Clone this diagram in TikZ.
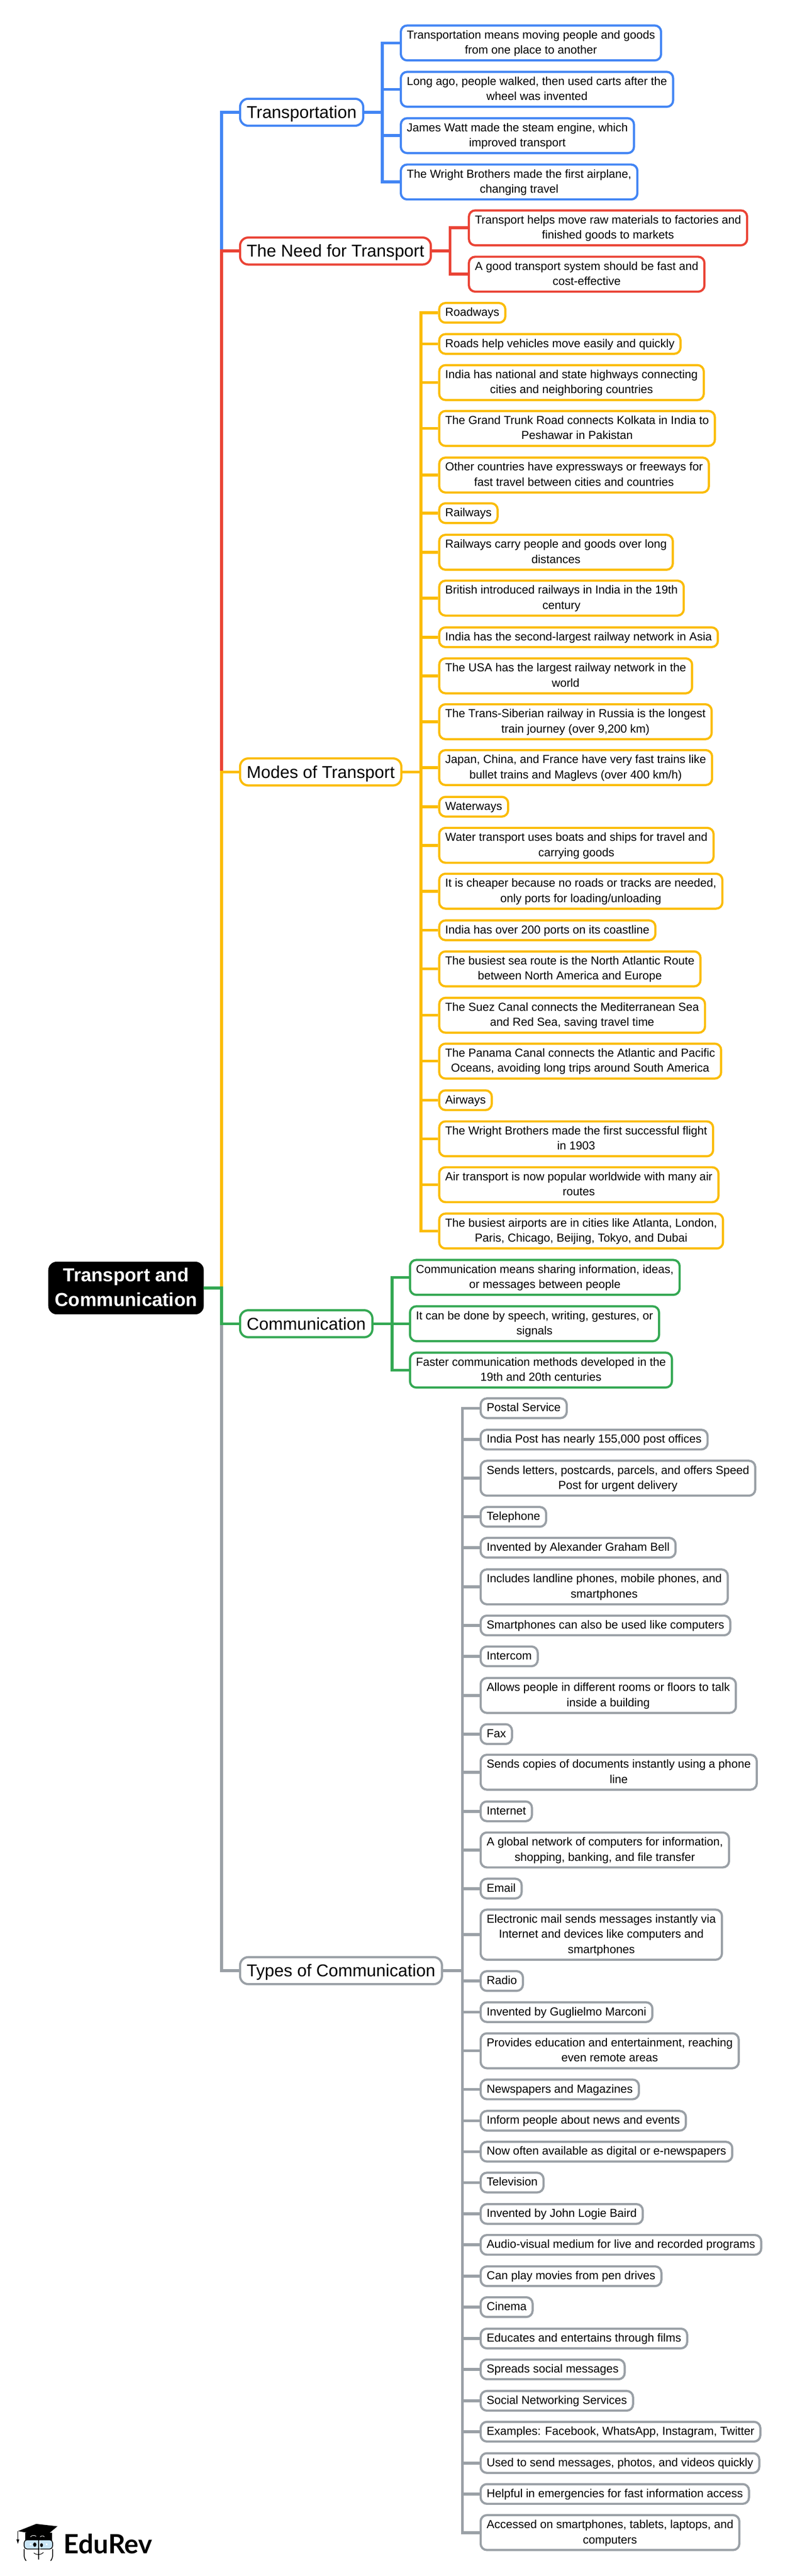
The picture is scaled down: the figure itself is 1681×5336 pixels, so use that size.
\documentclass[tikz,border=0pt]{standalone}
\usepackage{fontspec}
\setmainfont{Liberation Sans}
\newfontfamily\logofont{Lato}
\definecolor{tblue}{HTML}{4285F4}
\definecolor{tred}{HTML}{EA4335}
\definecolor{tyellow}{HTML}{FBBC04}
\definecolor{tgreen}{HTML}{34A853}
\definecolor{tgrey}{HTML}{9AA0A6}
\definecolor{lens}{HTML}{C9E5F6}
\newcommand{\boxstrut}[2]{\rule[-#2pt]{0pt}{#1pt}}
\begin{document}
\begin{tikzpicture}[x=1pt,y=-1pt,
    boxed/.style={draw,fill=white,anchor=west,align=center},
    root/.style={boxed,draw=black,fill=black,text=white,line width=1pt,rounded corners=17pt,inner xsep=13.2pt,inner ysep=3pt,font=\fontsize{39}{51}\selectfont\bfseries,text height=88.4pt,execute at end node=\boxstrut{51}{13.6}},
    branch/.style={boxed,line width=4.5pt,rounded corners=17pt,inner xsep=13.75pt,inner ysep=5.45pt,font=\fontsize{35.5}{45}\selectfont,text height=35pt,execute at end node=\boxstrut{45}{10}},
    leaf/.style={boxed,line width=4.5pt,rounded corners=13pt,inner xsep=12.45pt,inner ysep=4.65pt,font=\fontsize{24}{31.5}\selectfont,text height=22.75pt,execute at end node=\boxstrut{31.5}{8.75}},
    leaftwo/.style={leaf,text height=54.25pt},
    leafthree/.style={leaf,text height=85.75pt},
    trunk/.style={line width=6pt},
    twig/.style={line width=6pt}]
    \useasboundingbox (0,0) rectangle (1681,5336);

    \node[root] at (100,2668) (root) {Transport and\\Communication};

    % first branch
    \node[branch,draw=tblue] at (495,232.5) (trans) {Transportation};
    \node[leaftwo,draw=tblue] at (828,89) (t1) {Transportation means moving people and goods\\from one place to another};
    \node[leaftwo,draw=tblue] at (828,185) (t2) {Long ago, people walked, then used carts after the\\wheel was invented};
    \node[leaftwo,draw=tblue] at (828,281) (t3) {James Watt made the steam engine, which\\improved transport};
    \node[leaftwo,draw=tblue] at (828,377) (t4) {The Wright Brothers made the first airplane,\\changing travel};

    \node[branch,draw=tred] at (495,520) (need) {The Need for Transport};
    \node[leaftwo,draw=tred] at (969,472) (n1) {Transport helps move raw materials to factories and\\finished goods to markets};
    \node[leaftwo,draw=tred] at (969,568) (n2) {A good transport system should be fast and\\cost-effective};

    % modes
    \node[branch,draw=tyellow] at (495,1599) (modes) {Modes of Transport};
    \node[leaf,draw=tyellow] at (907.5,648) (m1) {Roadways};
    \node[leaf,draw=tyellow] at (907.5,712.5) (m2) {Roads help vehicles move easily and quickly};
    \node[leaftwo,draw=tyellow] at (907.5,792.5) (m3) {India has national and state highways connecting\\cities and neighboring countries};
    \node[leaftwo,draw=tyellow] at (907.5,887.5) (m4) {The Grand Trunk Road connects Kolkata in India to\\Peshawar in Pakistan};
    \node[leaftwo,draw=tyellow] at (907.5,984) (m5) {Other countries have expressways or freeways for\\fast travel between cities and countries};
    \node[leaf,draw=tyellow] at (907.5,1063) (m6) {Railways};
    \node[leaftwo,draw=tyellow] at (907.5,1144) (m7) {Railways carry people and goods over long\\distances};
    \node[leaftwo,draw=tyellow] at (907.5,1239) (m8) {British introduced railways in India in the 19th\\century};
    \node[leaf,draw=tyellow] at (907.5,1320) (m9) {India has the second-largest railway network in Asia};
    \node[leaftwo,draw=tyellow] at (907.5,1400) (m10) {The USA has the largest railway network in the\\world};
    \node[leaftwo,draw=tyellow] at (907.5,1495) (m11) {The Trans-Siberian railway in Russia is the longest\\train journey (over 9,200 km)};
    \node[leaftwo,draw=tyellow] at (907.5,1590) (m12) {Japan, China, and France have very fast trains like\\bullet trains and Maglevs (over 400 km/h)};
    \node[leaf,draw=tyellow] at (907.5,1671) (m13) {Waterways};
    \node[leaftwo,draw=tyellow] at (907.5,1751) (m14) {Water transport uses boats and ships for travel and\\carrying goods};
    \node[leaftwo,draw=tyellow] at (907.5,1846) (m15) {It is cheaper because no roads or tracks are needed,\\only ports for loading/unloading};
    \node[leaf,draw=tyellow] at (907.5,1927) (m16) {India has over 200 ports on its coastline};
    \node[leaftwo,draw=tyellow] at (907.5,2007) (m17) {The busiest sea route is the North Atlantic Route\\between North America and Europe};
    \node[leaftwo,draw=tyellow] at (907.5,2103) (m18) {The Suez Canal connects the Mediterranean Sea\\and Red Sea, saving travel time};
    \node[leaftwo,draw=tyellow] at (907.5,2198) (m19) {The Panama Canal connects the Atlantic and Pacific\\Oceans, avoiding long trips around South America};
    \node[leaf,draw=tyellow] at (907.5,2279) (m20) {Airways};
    \node[leaftwo,draw=tyellow] at (907.5,2359) (m21) {The Wright Brothers made the first successful flight\\in 1903};
    \node[leaftwo,draw=tyellow] at (907.5,2454) (m22) {Air transport is now popular worldwide with many air\\routes};
    \node[leaftwo,draw=tyellow] at (907.5,2550) (m23) {The busiest airports are in cities like Atlanta, London,\\Paris, Chicago, Beijing, Tokyo, and Dubai};

    % communication
    \node[branch,draw=tgreen] at (495,2742) (comm) {Communication};
    \node[leaftwo,draw=tgreen] at (847,2646) (c1) {Communication means sharing information, ideas,\\or messages between people};
    \node[leaftwo,draw=tgreen] at (847,2742) (c2) {It can be done by speech, writing, gestures, or\\signals};
    \node[leaftwo,draw=tgreen] at (847,2838) (c3) {Faster communication methods developed in the\\19th and 20th centuries};

    % types
    \node[branch,draw=tgrey] at (495,4082) (types) {Types of Communication};
    \node[leaf,draw=tgrey] at (993.3,2917) (g1) {Postal Service};
    \node[leaf,draw=tgrey] at (993.3,2982) (g2) {India Post has nearly 155,000 post offices};
    \node[leaftwo,draw=tgrey] at (993.3,3062) (g3) {Sends letters, postcards, parcels, and offers Speed\\Post for urgent delivery};
    \node[leaf,draw=tgrey] at (993.3,3142) (g4) {Telephone};
    \node[leaf,draw=tgrey] at (993.3,3206) (g5) {Invented by Alexander Graham Bell};
    \node[leaftwo,draw=tgrey] at (993.3,3287) (g6) {Includes landline phones, mobile phones, and\\smartphones};
    \node[leaf,draw=tgrey] at (993.3,3367) (g7) {Smartphones can also be used like computers};
    \node[leaf,draw=tgrey] at (993.3,3431) (g8) {Intercom};
    \node[leaftwo,draw=tgrey] at (993.3,3512) (g9) {Allows people in different rooms or floors to talk\\inside a building};
    \node[leaf,draw=tgrey] at (993.3,3592) (g10) {Fax};
    \node[leaftwo,draw=tgrey] at (993.3,3671) (g11) {Sends copies of documents instantly using a phone\\line};
    \node[leaf,draw=tgrey] at (993.3,3752) (g12) {Internet};
    \node[leaftwo,draw=tgrey] at (993.3,3832) (g13) {A global network of computers for information,\\shopping, banking, and file transfer};
    \node[leaf,draw=tgrey] at (993.3,3912) (g14) {Email};
    \node[leafthree,draw=tgrey] at (993.3,4007.5) (g15) {Electronic mail sends messages instantly via\\Internet and devices like computers and\\smartphones};
    \node[leaf,draw=tgrey] at (993.3,4103.5) (g16) {Radio};
    \node[leaf,draw=tgrey] at (993.3,4168) (g17) {Invented by Guglielmo Marconi};
    \node[leaftwo,draw=tgrey] at (993.3,4248) (g18) {Provides education and entertainment, reaching\\even remote areas};
    \node[leaf,draw=tgrey] at (993.3,4328) (g19) {Newspapers and Magazines};
    \node[leaf,draw=tgrey] at (993.3,4393) (g20) {Inform people about news and events};
    \node[leaf,draw=tgrey] at (993.3,4457) (g21) {Now often available as digital or e-newspapers};
    \node[leaf,draw=tgrey] at (993.3,4521) (g22) {Television};
    \node[leaf,draw=tgrey] at (993.3,4586) (g23) {Invented by John Logie Baird};
    \node[leaf,draw=tgrey] at (993.3,4650) (g24) {Audio-visual medium for live and recorded programs};
    \node[leaf,draw=tgrey] at (993.3,4715) (g25) {Can play movies from pen drives};
    \node[leaf,draw=tgrey] at (993.3,4779) (g26) {Cinema};
    \node[leaf,draw=tgrey] at (993.3,4844) (g27) {Educates and entertains through films};
    \node[leaf,draw=tgrey] at (993.3,4908) (g28) {Spreads social messages};
    \node[leaf,draw=tgrey] at (993.3,4973) (g29) {Social Networking Services};
    \node[leaf,draw=tgrey] at (993.3,5037) (g30) {Examples: Facebook, WhatsApp, Instagram, Twitter};
    \node[leaf,draw=tgrey] at (993.3,5102) (g31) {Used to send messages, photos, and videos quickly};
    \node[leaf,draw=tgrey] at (993.3,5166) (g32) {Helpful in emergencies for fast information access};
    \node[leaftwo,draw=tgrey] at (993.3,5246) (g33) {Accessed on smartphones, tablets, laptops, and\\computers};

    \coordinate (spine) at (459,2668);
    \coordinate (tfork) at (792,232.5);
    \coordinate (nfork) at (932,520);
    \coordinate (mfork) at (872,1599);
    \coordinate (cfork) at (812,2742);
    \coordinate (gfork) at (957.7,4082);

    % trunk, top branch painted first
    \draw[trunk,tblue] (root.east) -- (spine) |- (trans.west);
    \draw[trunk,tred] (root.east) -- (spine) |- (need.west);
    \draw[trunk,tyellow] (root.east) -- (spine) |- (modes.west);
    \draw[trunk,tgrey] (root.east) -- (spine) |- (types.west);
    \draw[trunk,tgreen] (root.east) -- (spine) |- (comm.west);

    \draw[twig,tblue] (trans.east) -- (tfork);
    \draw[twig,tblue] (tfork) |- (t1.west);
    \draw[twig,tblue] (tfork) |- (t2.west);
    \draw[twig,tblue] (tfork) |- (t3.west);
    \draw[twig,tblue] (tfork) |- (t4.west);

    \draw[twig,tred] (need.east) -- (nfork);
    \draw[twig,tred] (nfork) |- (n1.west);
    \draw[twig,tred] (nfork) |- (n2.west);

    \draw[twig,tyellow] (modes.east) -- (mfork);
    \draw[twig,tyellow] (mfork) |- (m1.west);
    \draw[twig,tyellow] (mfork) |- (m2.west);
    \draw[twig,tyellow] (mfork) |- (m3.west);
    \draw[twig,tyellow] (mfork) |- (m4.west);
    \draw[twig,tyellow] (mfork) |- (m5.west);
    \draw[twig,tyellow] (mfork) |- (m6.west);
    \draw[twig,tyellow] (mfork) |- (m7.west);
    \draw[twig,tyellow] (mfork) |- (m8.west);
    \draw[twig,tyellow] (mfork) |- (m9.west);
    \draw[twig,tyellow] (mfork) |- (m10.west);
    \draw[twig,tyellow] (mfork) |- (m11.west);
    \draw[twig,tyellow] (mfork) |- (m12.west);
    \draw[twig,tyellow] (mfork) |- (m13.west);
    \draw[twig,tyellow] (mfork) |- (m14.west);
    \draw[twig,tyellow] (mfork) |- (m15.west);
    \draw[twig,tyellow] (mfork) |- (m16.west);
    \draw[twig,tyellow] (mfork) |- (m17.west);
    \draw[twig,tyellow] (mfork) |- (m18.west);
    \draw[twig,tyellow] (mfork) |- (m19.west);
    \draw[twig,tyellow] (mfork) |- (m20.west);
    \draw[twig,tyellow] (mfork) |- (m21.west);
    \draw[twig,tyellow] (mfork) |- (m22.west);
    \draw[twig,tyellow] (mfork) |- (m23.west);

    \draw[twig,tgreen] (comm.east) -- (cfork);
    \draw[twig,tgreen] (cfork) |- (c1.west);
    \draw[twig,tgreen] (cfork) |- (c2.west);
    \draw[twig,tgreen] (cfork) |- (c3.west);

    \draw[twig,tgrey] (types.east) -- (gfork);
    \draw[twig,tgrey] (gfork) |- (g1.west);
    \draw[twig,tgrey] (gfork) |- (g2.west);
    \draw[twig,tgrey] (gfork) |- (g3.west);
    \draw[twig,tgrey] (gfork) |- (g4.west);
    \draw[twig,tgrey] (gfork) |- (g5.west);
    \draw[twig,tgrey] (gfork) |- (g6.west);
    \draw[twig,tgrey] (gfork) |- (g7.west);
    \draw[twig,tgrey] (gfork) |- (g8.west);
    \draw[twig,tgrey] (gfork) |- (g9.west);
    \draw[twig,tgrey] (gfork) |- (g10.west);
    \draw[twig,tgrey] (gfork) |- (g11.west);
    \draw[twig,tgrey] (gfork) |- (g12.west);
    \draw[twig,tgrey] (gfork) |- (g13.west);
    \draw[twig,tgrey] (gfork) |- (g14.west);
    \draw[twig,tgrey] (gfork) |- (g15.west);
    \draw[twig,tgrey] (gfork) |- (g16.west);
    \draw[twig,tgrey] (gfork) |- (g17.west);
    \draw[twig,tgrey] (gfork) |- (g18.west);
    \draw[twig,tgrey] (gfork) |- (g19.west);
    \draw[twig,tgrey] (gfork) |- (g20.west);
    \draw[twig,tgrey] (gfork) |- (g21.west);
    \draw[twig,tgrey] (gfork) |- (g22.west);
    \draw[twig,tgrey] (gfork) |- (g23.west);
    \draw[twig,tgrey] (gfork) |- (g24.west);
    \draw[twig,tgrey] (gfork) |- (g25.west);
    \draw[twig,tgrey] (gfork) |- (g26.west);
    \draw[twig,tgrey] (gfork) |- (g27.west);
    \draw[twig,tgrey] (gfork) |- (g28.west);
    \draw[twig,tgrey] (gfork) |- (g29.west);
    \draw[twig,tgrey] (gfork) |- (g30.west);
    \draw[twig,tgrey] (gfork) |- (g31.west);
    \draw[twig,tgrey] (gfork) |- (g32.west);
    \draw[twig,tgrey] (gfork) |- (g33.west);

    % logo
    \node[anchor=base west,inner sep=0pt,font=\fontsize{55}{60}\selectfont\logofont\bfseries] at (132,5290) (logo) {EduRev};
    \fill (52,5246) -- (108,5246) -- (108,5262) -- (52,5262) -- cycle;
    \draw[white,line width=1pt] (63,5255) .. controls (66,5251) and (72,5251) .. (75,5254);
    \draw[white,line width=1pt] (83,5255) .. controls (86,5252) and (90,5252) .. (92,5255);
    \fill (75,5228) -- (119,5233) -- (95,5253) -- (37,5243) -- cycle;
    \draw[line width=1.2pt] (37,5243) -- (37,5260);
    \fill (34,5260) -- (40,5260) -- (37,5269) -- cycle;
    \draw[line width=1.6pt,fill=lens,rounded corners=6pt] (50,5261) rectangle (109,5280);
    \draw[line width=1.6pt,rounded corners=6pt] (52,5302) -- (50,5300) -- (50,5280);
    \draw[line width=1.6pt,rounded corners=6pt] (107,5302) -- (109,5300) -- (109,5280);
    \draw[line width=1.6pt] (80,5258) -- (80,5302);
    \draw[white,line width=1.2pt] (83,5262) -- (83,5300);
    \fill (72,5271) ellipse [x radius=3.5pt,y radius=4.5pt];
    \fill (86,5272) ellipse [x radius=3pt,y radius=4pt];
    \fill[white] (62,5269) rectangle (65,5272);
    \fill[white] (95,5269) rectangle (98,5272);
    \draw[line width=1.2pt] (70,5288) .. controls (76,5293) and (84,5293) .. (90,5287);
\end{tikzpicture}
\end{document}
